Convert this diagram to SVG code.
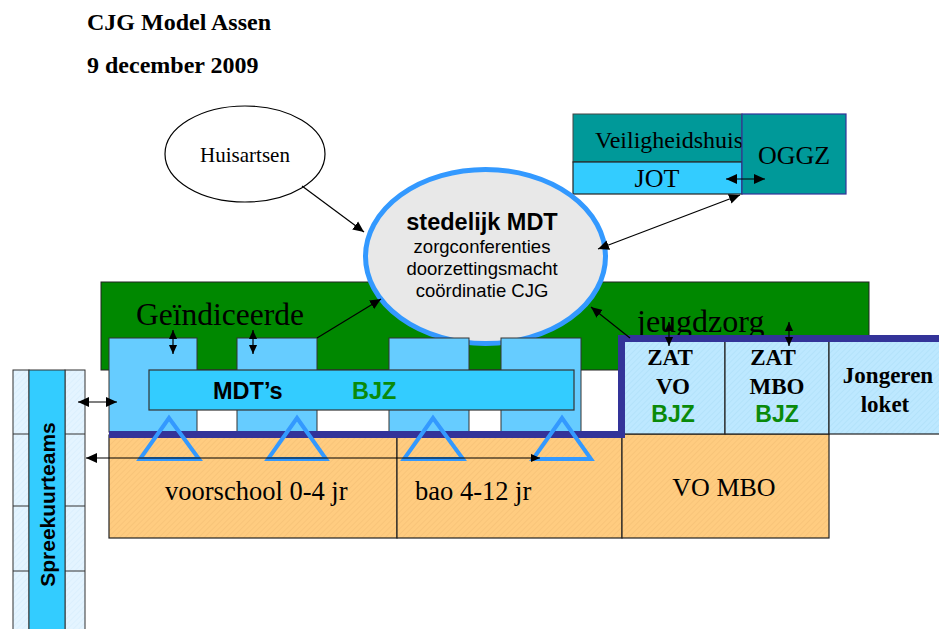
<svg xmlns="http://www.w3.org/2000/svg" width="939" height="629" viewBox="0 0 939 629">
<defs>
<style>
.serif{font-family:"Liberation Serif","Times New Roman",serif;fill:#000}
.sans{font-family:"Liberation Sans",Arial,sans-serif;fill:#000}
.b{font-weight:bold}
.grn{fill:#0a8a0a}
.ln{stroke:#000;stroke-width:1.2;fill:none}
.box{fill:#66ccff;stroke:#333;stroke-width:1}
.tri{fill:none;stroke:#3399ff;stroke-width:4;stroke-linejoin:miter}
.cell{stroke:#222;stroke-width:1.2}
</style>
<pattern id="org" width="4" height="4" patternUnits="userSpaceOnUse" patternTransform="rotate(45)">
<rect width="4" height="4" fill="#ffcc80"/>
<line x1="0" y1="0" x2="0" y2="4" stroke="#f2bd72" stroke-width="1"/>
</pattern>
<pattern id="lbl" width="4" height="4" patternUnits="userSpaceOnUse" patternTransform="rotate(45)">
<rect width="4" height="4" fill="#bde8ff"/>
<line x1="0" y1="0" x2="0" y2="4" stroke="#a9dcf5" stroke-width="1"/>
</pattern>
<pattern id="vlb" width="4" height="4" patternUnits="userSpaceOnUse" patternTransform="rotate(45)">
<rect width="4" height="4" fill="#e4f4ff"/>
<line x1="0" y1="0" x2="0" y2="4" stroke="#d2ebfb" stroke-width="1"/>
</pattern>
<marker id="ah" viewBox="0 0 10 10" refX="10" refY="5" markerWidth="11" markerHeight="11" markerUnits="userSpaceOnUse" orient="auto-start-reverse">
<path d="M0,0.5 L10,5 L0,9.5 z" fill="#000"/>
</marker>
<marker id="ahs" viewBox="0 0 10 10" refX="10" refY="5" markerWidth="9" markerHeight="9" markerUnits="userSpaceOnUse" orient="auto-start-reverse">
<path d="M0,0.5 L10,5 L0,9.5 z" fill="#000"/>
</marker>
</defs>

<g id="title">
<text class="serif b" x="87" y="30" font-size="24">CJG Model Assen</text>
<text class="serif b" x="87" y="73" font-size="24">9 december 2009</text>
</g>

<g id="huisartsen">
<ellipse cx="245" cy="154" rx="80" ry="48" fill="#fff" stroke="#000" stroke-width="1.2"/>
<text class="serif" x="245" y="162" font-size="21" text-anchor="middle">Huisartsen</text>
</g>

<g id="veiligheidshuis">
<rect x="573" y="114" width="169" height="48" fill="#009999" stroke="#444" stroke-width="1"/>
<text class="serif" x="595" y="148" font-size="24">Veiligheidshuis</text>
</g>
<g id="jot">
<rect x="573" y="162" width="169" height="32" fill="#33ccff" stroke="#222" stroke-width="1.2"/>
<text class="serif" x="657" y="187" font-size="26" text-anchor="middle">JOT</text>
</g>
<g id="oggz">
<rect x="742" y="114" width="104" height="80" fill="#009999" stroke="#333399" stroke-width="1.2"/>
<text class="serif" x="794" y="164" font-size="26" text-anchor="middle">OGGZ</text>
</g>

<g id="jeugdzorg-band">
<rect x="101" y="282" width="768" height="88" fill="#008800" stroke="#222" stroke-width="1"/>
<text class="serif" x="136" y="325" font-size="31.5">Geïndiceerde</text>
<text class="serif" x="637" y="332" font-size="32">jeugdzorg</text>
</g>

<g id="stedelijk-mdt">
<ellipse cx="485.5" cy="256.5" rx="120" ry="87" fill="#e8e8e8" stroke="#3399ff" stroke-width="5"/>
<text class="sans b" x="482" y="230" font-size="23.5" text-anchor="middle">stedelijk MDT</text>
<text class="sans" x="482" y="253" font-size="18.5" text-anchor="middle">zorgconferenties</text>
<text class="sans" x="482" y="275" font-size="18.5" text-anchor="middle">doorzettingsmacht</text>
<text class="sans" x="482" y="297" font-size="18.5" text-anchor="middle">coördinatie CJG</text>
</g>

<g id="mdt-boxes">
<rect class="box" x="109" y="338" width="88" height="94"/>
<rect class="box" x="237" y="338" width="80" height="94"/>
<rect class="box" x="389" y="338" width="80" height="94"/>
<rect class="box" x="501" y="338" width="80" height="94"/>
</g>

<g id="mdts">
<rect x="149" y="370" width="425" height="40" fill="#33ccff" stroke="#333" stroke-width="1.2"/>
<text class="sans b" x="213" y="399" font-size="23.5">MDT’s</text>
<text class="sans b grn" x="352" y="399" font-size="23.5">BJZ</text>
</g>

<g id="voorschool">
<rect class="cell" x="109" y="435" width="288" height="103" fill="url(#org)"/>
<text class="serif" x="165" y="500" font-size="26.5">voorschool 0-4 jr</text>
</g>
<g id="bao">
<rect class="cell" x="397" y="435" width="225" height="103" fill="url(#org)"/>
<text class="serif" x="415" y="500" font-size="26.5">bao 4-12 jr</text>
</g>
<g id="vo-mbo">
<rect class="cell" x="622" y="434" width="207" height="104" fill="url(#org)"/>
<text class="serif" x="724" y="496" font-size="26" text-anchor="middle">VO MBO</text>
</g>

<g id="zat-vo">
<rect class="cell" x="622" y="339" width="103" height="95" fill="url(#lbl)"/>
<text class="serif b" x="670" y="365" font-size="23" text-anchor="middle">ZAT</text>
<text class="serif b" x="673" y="394" font-size="23" text-anchor="middle">VO</text>
<text class="sans b grn" x="673" y="422" font-size="23" text-anchor="middle">BJZ</text>
</g>
<g id="zat-mbo">
<rect class="cell" x="725" y="339" width="104" height="95" fill="url(#lbl)"/>
<text class="serif b" x="773" y="365" font-size="23" text-anchor="middle">ZAT</text>
<text class="serif b" x="777" y="394" font-size="23" text-anchor="middle">MBO</text>
<text class="sans b grn" x="777" y="422" font-size="23" text-anchor="middle">BJZ</text>
</g>
<g id="jongerenloket">
<rect class="cell" x="829" y="339" width="112" height="95" fill="url(#lbl)"/>
<text class="serif b" x="888" y="383" font-size="23" text-anchor="middle">Jongeren</text>
<text class="serif b" x="885" y="412" font-size="23" text-anchor="middle">loket</text>
</g>

<g id="frame">
<path d="M109,434.5 H621.5 V338.5 H945" fill="none" stroke="#333399" stroke-width="7"/>
</g>

<g id="triangles">
<path class="tri" d="M169,418 L199,459 L140,459 Z"/>
<path class="tri" d="M297,418 L326,459 L268,459 Z"/>
<path class="tri" d="M433,418 L463,459 L404,459 Z"/>
<path class="tri" d="M562,418 L591,459 L533,459 Z"/>
</g>

<g id="spreekuurteams">
<rect x="13" y="370" width="16" height="270" fill="url(#vlb)" stroke="#333" stroke-width="1"/>
<rect x="65" y="370" width="20" height="270" fill="url(#vlb)" stroke="#333" stroke-width="1"/>
<line x1="13" y1="434" x2="29" y2="434" stroke="#333" stroke-width="1"/>
<line x1="65" y1="434" x2="85" y2="434" stroke="#333" stroke-width="1"/>
<line x1="13" y1="506" x2="29" y2="506" stroke="#333" stroke-width="1"/>
<line x1="65" y1="506" x2="85" y2="506" stroke="#333" stroke-width="1"/>
<line x1="13" y1="571" x2="29" y2="571" stroke="#333" stroke-width="1"/>
<line x1="65" y1="571" x2="85" y2="571" stroke="#333" stroke-width="1"/>
<rect x="29" y="370" width="36" height="270" fill="#33ccff" stroke="#333" stroke-width="1"/>
<text class="sans b" transform="translate(55,504.5) rotate(-90)" x="0" y="0" font-size="21" text-anchor="middle">Spreekuurteams</text>
</g>

<g id="connectors">
<line class="ln" x1="302" y1="186" x2="364" y2="232" marker-end="url(#ah)"/>
<line class="ln" x1="598" y1="249" x2="740" y2="195" marker-start="url(#ah)" marker-end="url(#ah)"/>
<line class="ln" x1="726" y1="179" x2="765" y2="179" marker-start="url(#ah)" marker-end="url(#ah)"/>
<line class="ln" x1="317" y1="338" x2="381" y2="299" marker-end="url(#ah)"/>
<line class="ln" x1="630" y1="338" x2="591" y2="307" marker-end="url(#ah)"/>
<line class="ln" x1="173" y1="330" x2="173" y2="354" marker-start="url(#ahs)" marker-end="url(#ahs)"/>
<line class="ln" x1="253" y1="330" x2="253" y2="354" marker-start="url(#ahs)" marker-end="url(#ahs)"/>
<line class="ln" x1="669" y1="322" x2="669" y2="346" marker-start="url(#ahs)" marker-end="url(#ahs)"/>
<line class="ln" x1="789" y1="322" x2="789" y2="346" marker-start="url(#ahs)" marker-end="url(#ahs)"/>
<line class="ln" x1="78" y1="402" x2="117" y2="402" marker-start="url(#ah)" marker-end="url(#ah)"/>
<line class="ln" x1="86" y1="458" x2="540" y2="458" marker-start="url(#ah)" marker-end="url(#ahs)"/>
</g>
</svg>
